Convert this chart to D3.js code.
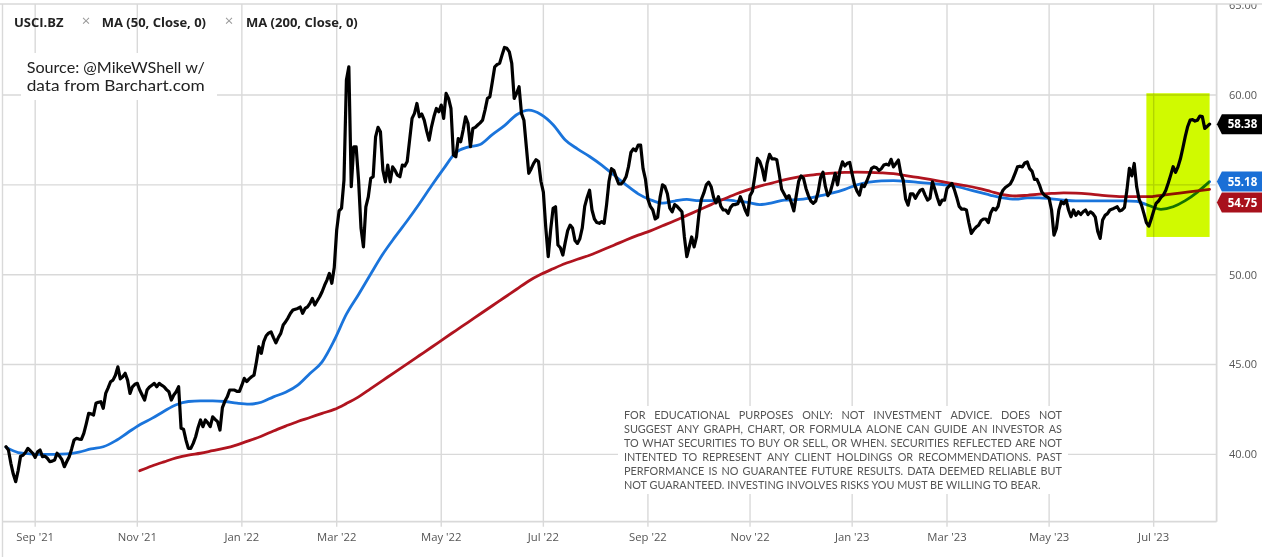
<!DOCTYPE html>
<html>
<head>
<meta charset="utf-8">
<script src="https://cdnjs.cloudflare.com/ajax/libs/d3/7.8.5/d3.min.js"></script>
<style>
html,body{margin:0;padding:0;background:#fff;}
svg{display:block;}
</style>
</head>
<body>
<svg id="chart" width="1275" height="557"></svg>
<script>
// ---------------- DATA ----------------
const symbol = "USCI.BZ";
const studyLabels = ["MA (50, Close, 0)", "MA (200, Close, 0)"];
const sourceLines = ["Source: @MikeWShell w/", "data from Barchart.com"];
const disclaimerLines = [
  "FOR EDUCATIONAL PURPOSES ONLY: NOT INVESTMENT ADVICE. DOES NOT",
  "SUGGEST ANY GRAPH, CHART, OR FORMULA ALONE CAN GUIDE AN INVESTOR AS",
  "TO WHAT SECURITIES TO BUY OR SELL, OR WHEN. SECURITIES REFLECTED ARE NOT",
  "INTENTED TO REPRESENT ANY CLIENT HOLDINGS OR RECOMMENDATIONS. PAST",
  "PERFORMANCE IS NO GUARANTEE FUTURE RESULTS. DATA DEEMED RELIABLE BUT",
  "NOT GUARANTEED. INVESTING INVOLVES RISKS YOU MUST BE WILLING TO BEAR."
];

// trading calendar
const firstSession = "2021-08-16";
const marketHolidays = [
  "2021-09-06","2021-11-25","2021-12-24","2022-01-17","2022-02-21","2022-04-15",
  "2022-05-30","2022-06-20","2022-07-04","2022-09-05","2022-11-24","2022-12-26",
  "2023-01-02","2023-01-16","2023-02-20","2023-04-07","2023-05-29","2023-06-19","2023-07-04"
];

// daily closes (one per trading session)
const closeValues = [
  // Aug 2021
  40.42,40.24,39.5,38.9,38.48,39.1,39.9,39.95,40.1,40.33,40.2,40.06,
  // Sep 2021
  39.83,40.14,40.24,39.87,39.9,39.78,39.59,39.62,39.68,40.06,39.9,39.7,39.31,39.6,39.87,40.3,40.8,40.89,40.85,40.83,41.17,
  // Oct 2021
  41.7,42.28,42.25,42.19,42.84,42.9,42.93,42.56,43.39,43.7,44.04,44.13,44.4,44.87,44.2,44.32,44.51,44.13,43.39,43.76,43.9,
  // Nov 2021
  43.95,43.58,43.3,43.02,43.58,43.75,43.85,43.95,43.76,43.95,43.85,43.76,43.6,43.48,43.02,43.3,43.48,43.76,41.45,41.4,40.8,
  // Dec 2021
  40.33,40.33,40.61,40.98,41.5,41.91,41.54,41.91,41.75,41.54,42.09,41.95,41.82,41.35,42.6,42.95,43.2,43.58,43.58,43.58,43.5,43.5,
  // Jan 2022
  43.85,44.23,44.05,44.2,44.32,44.41,45.15,45.99,45.62,46.27,46.6,46.75,46.82,46.5,46.21,46.5,46.73,47.2,47.38,47.6,
  // Feb 2022
  47.85,48.03,48.08,48.12,48.2,47.85,48.12,48.21,48.4,48.68,48.31,48.55,48.77,49.05,49.4,49.7,50.07,49.52,50.4,
  // Mar 2022
  52.48,53.55,53.7,55.26,60.83,61.57,54.9,57.12,57.12,55.26,52.6,51.55,53.78,54.33,55.36,55.45,57.67,58.2,57.95,55.82,55.17,56.1,55.17,
  // Apr 2022
  56.0,55.8,55.54,55.45,56.1,56.05,56.3,57.5,58.7,58.98,59.53,58.79,58.94,58.6,58.0,57.49,58.23,58.8,59.25,59.07,
  // May 2022
  59.44,58.7,60.09,59.81,59.25,56.66,56.56,57.58,57.4,58.05,58.79,58.42,57.12,58.14,58.2,58.33,58.45,58.6,59.16,59.81,59.9,
  // Jun 2022
  60.73,61.57,61.7,61.76,62.22,62.65,62.6,62.4,61.76,59.81,60.09,60.46,58.98,58.6,57.12,55.64,55.9,56.2,56.4,56.3,55.2,
  // Jul 2022
  54.6,52.6,51.0,52.5,53.69,53.78,51.65,51.5,51.09,51.8,52.45,52.76,52.6,51.9,51.74,52.0,52.6,53.8,54.3,54.7,
  // Aug 2022
  53.6,53.1,52.9,52.86,52.95,52.86,53.9,55.2,55.9,55.8,55.4,55.05,55.05,55.2,55.45,56.0,56.8,57.0,56.9,57.21,57.21,55.9,55.3,
  // Sep 2022
  54.2,53.8,53.6,53.1,53.2,54.3,55.0,54.9,54.5,53.7,53.5,53.9,53.8,53.65,53.5,52.1,51.0,51.55,52.1,51.55,52.1,
  // Oct 2022
  53.4,54.2,54.55,55.0,55.15,54.9,54.3,54.0,54.34,53.8,53.6,53.6,53.41,53.75,53.9,53.9,53.95,54.34,54.0,53.6,53.32,
  // Nov 2022
  54.4,54.65,55.5,56.47,56.3,55.9,55.26,56.19,56.7,56.45,56.45,56.4,55.6,54.75,54.5,54.25,54.4,54.0,53.55,54.4,55.2,
  // Dec 2022
  55.5,55.36,54.8,54.4,54.1,53.97,54.1,54.6,55.4,55.7,54.9,54.4,54.6,55.1,55.64,55.0,55.82,56.28,56.05,56.2,56.25,
  // Jan 2023
  55.6,55.0,54.65,54.43,55.0,54.9,55.2,55.55,55.92,56.0,55.95,55.8,55.9,56.1,56.15,56.1,56.42,56.0,56.19,56.38,
  // Feb 2023
  55.64,55.26,54.2,53.87,54.5,54.5,54.25,54.5,54.7,54.75,54.43,54.15,54.25,55.17,54.75,54.3,53.9,54.15,54.15,
  // Mar 2023
  54.8,54.95,55.08,54.75,54.3,53.8,53.65,53.65,53.6,52.9,52.3,52.5,52.65,52.75,53.0,53.1,53.1,52.9,53.45,53.69,53.6,53.8,54.4,
  // Apr 2023
  54.7,54.85,54.95,55.05,55.3,55.64,56.0,56.04,56.0,56.22,56.28,55.9,55.75,55.3,55.3,55.0,54.6,54.43,54.35,
  // May 2023
  54.25,53.6,52.2,52.57,53.6,54.06,53.95,54.15,53.6,53.22,53.6,53.3,53.5,53.35,53.5,53.6,53.35,53.5,53.4,53.2,52.4,52.02,
  // Jun 2023
  53.04,53.3,53.4,53.6,53.65,53.72,53.78,53.55,53.6,53.75,54.71,55.92,55.5,56.19,54.9,54.2,53.87,53.4,52.9,52.7,53.1,
  // Jul 2023
  53.55,53.97,54.1,54.3,54.43,54.7,55.1,55.54,56.01,55.7,56.0,56.45,57.05,57.7,58.25,58.6,58.63,58.55,58.6,58.83,
  // Aug 2023
  58.8,58.14,58.25,58.38
];

// moving averages, one reading every maStep sessions
const maStep = 5;
const ma50Values = [
  40.4,40.1,40.03,40.0,40.0,40.02,40.12,40.3,40.42,40.75,
  41.2,41.65,42.0,42.4,42.76,42.94,42.98,42.98,42.94,42.85,
  42.8,42.9,43.2,43.45,43.85,44.5,45.15,46.35,47.8,48.9,
  50.04,51.15,52.1,53.0,53.95,54.95,55.9,56.8,57.1,57.25,
  57.8,58.3,58.9,59.16,58.92,58.35,57.5,57.0,56.58,56.1,
  55.55,55.0,54.5,54.17,53.98,54.1,54.19,54.12,54.12,54.18,
  54.1,54.02,53.9,54.0,54.15,54.18,54.25,54.4,54.55,54.75,
  55.0,55.15,55.22,55.23,55.2,55.14,55.08,55.02,54.95,54.77,
  54.6,54.42,54.27,54.2,54.28,54.28,54.22,54.15,54.11,54.11,
  54.11,54.11,54.11,54.08,53.85,53.64,53.78,54.12,54.6,55.18
];
const ma200Values = [
  null,null,null,null,null,null,null,null,null,null,null,
  39.09,39.35,39.58,39.8,39.96,40.06,40.2,40.34,40.53,
  40.76,41.01,41.3,41.57,41.83,42.05,42.28,42.5,42.83,43.2,
  43.66,44.12,44.58,45.04,45.5,45.96,46.43,46.89,47.35,47.81,
  48.27,48.73,49.19,49.65,50.02,50.33,50.62,50.86,51.08,51.36,
  51.64,51.93,52.2,52.44,52.72,53.0,53.3,53.6,53.9,54.2,
  54.48,54.72,54.93,55.1,55.28,55.42,55.53,55.6,55.65,55.69,
  55.71,55.7,55.67,55.62,55.52,55.41,55.3,55.18,55.06,54.95,
  54.8,54.63,54.46,54.38,54.42,54.48,54.52,54.55,54.54,54.5,
  54.43,54.37,54.34,54.34,54.34,54.42,54.5,54.58,54.66,54.75
];

const lastClose = 58.38, lastMa50 = 55.18, lastMa200 = 54.75;

const yTicks = [40, 45, 50, 55, 60, 65];
const yTickLabels = ["40.00", "45.00", "50.00", "55.00", "60.00", "65.00"];
const xTickMonths = ["2021-09","2021-11","2022-01","2022-03","2022-05","2022-07",
                     "2022-09","2022-11","2023-01","2023-03","2023-05","2023-07"];

// highlighted box (annotation)
const highlightSessions = ["2023-06-28", "2023-08-04"];
const highlightRange = [52.1, 60.1];

// ---------------- LAYOUT ----------------
const W = 1275, H = 557;
const plot = {left: 2.5, right: 1216.6, top: 4, bottom: 521.7};
const svg = d3.select("#chart");
svg.append("rect").attr("width", W).attr("height", H).attr("fill", "#fff");

const fmt = d3.timeFormat("%Y-%m-%d");
const holidaySet = new Set(marketHolidays);
const sessions = [];
{
  let d = d3.timeParse("%Y-%m-%d")(firstSession);
  while (sessions.length < closeValues.length) {
    const wd = d.getDay();
    if (wd !== 0 && wd !== 6 && !holidaySet.has(fmt(d))) sessions.push(d);
    d = d3.timeDay.offset(d, 1);
  }
}
const sessionKeys = sessions.map(fmt);

const x = d3.scaleLinear().domain([0, sessions.length - 1]).range([6, 1209.6]);
const y = d3.scaleLinear().domain([36.25, 65]).range([plot.bottom, 5.2]);

const gridColor = "#d9d9d9";
const axisFont = "'Open Sans', 'Noto Sans', sans-serif";

// x tick indices: first session of each listed month
const xTicks = xTickMonths.map(m => sessionKeys.findIndex(k => k.slice(0, 7) === m));
const xFmt = d3.timeFormat("%b '%y");

// gridlines
const grid = svg.append("g");
grid.selectAll("line.h").data(yTicks.filter(t => y(t) > plot.top + 3)).join("line")
  .attr("x1", plot.left).attr("x2", plot.right)
  .attr("y1", d => y(d)).attr("y2", d => y(d))
  .attr("stroke", gridColor).attr("stroke-width", 1.4);
grid.selectAll("line.v").data(xTicks).join("line")
  .attr("x1", d => x(d)).attr("x2", d => x(d))
  .attr("y1", plot.top).attr("y2", plot.bottom + 5)
  .attr("stroke", gridColor).attr("stroke-width", 1.4);

// frame
grid.append("line").attr("x1", 0).attr("x2", 1262).attr("y1", plot.top).attr("y2", plot.top)
  .attr("stroke", gridColor).attr("stroke-width", 1.6);
grid.append("line").attr("x1", plot.left).attr("x2", plot.left).attr("y1", plot.top).attr("y2", H)
  .attr("stroke", gridColor).attr("stroke-width", 1.4);
grid.append("line").attr("x1", plot.right).attr("x2", plot.right).attr("y1", plot.top).attr("y2", plot.bottom)
  .attr("stroke", gridColor).attr("stroke-width", 1.8);
grid.append("line").attr("x1", plot.left).attr("x2", plot.right).attr("y1", plot.bottom).attr("y2", plot.bottom)
  .attr("stroke", gridColor).attr("stroke-width", 1.8);

// x axis labels
svg.append("g").selectAll("text").data(xTicks).join("text")
  .attr("x", d => x(d)).attr("y", 540.5)
  .attr("text-anchor", "middle")
  .attr("font-family", axisFont).attr("font-size", 11.3).attr("fill", "#555")
  .text(d => xFmt(sessions[d]));

// value tags layout (computed first so hidden axis labels can be skipped)
const tagH = 20;
const tags = [
  {v: lastClose, color: "#000"},
  {v: lastMa50, color: "#1a6fd6"},
  {v: lastMa200, color: "#a8111c"}
].map(t => ({...t, cy: y(t.v)})).sort((a, b) => a.cy - b.cy);
for (let k = 1; k < tags.length; k++) {
  const minY = tags[k - 1].cy + tagH + 1;
  if (tags[k].cy < minY) tags[k].cy = minY;
}
const coveredByTag = v => tags.some(t => Math.abs(y(v) - t.cy) < tagH / 2 + 5);

// y axis labels (clipped at frame top; labels hidden behind tags omitted)
svg.append("clipPath").attr("id", "yclip").append("rect")
  .attr("x", plot.right).attr("y", plot.top + 0.5).attr("width", 60).attr("height", H);
svg.append("g").attr("clip-path", "url(#yclip)").selectAll("text")
  .data(yTicks.map((t, i) => ({t, label: yTickLabels[i]})).filter(d => !coveredByTag(d.t)))
  .join("text")
  .attr("x", 1229).attr("y", d => y(d.t)).attr("dy", "0.36em")
  .attr("font-family", axisFont).attr("font-size", 11).attr("fill", "#555")
  .text(d => d.label);

// source box
const srcG = svg.append("g");
srcG.append("rect").attr("x", 21).attr("y", 53).attr("width", 196).attr("height", 47).attr("fill", "#fff");
srcG.selectAll("text").data(sourceLines).join("text")
  .attr("x", 26.7).attr("y", (d, i) => 73 + i * 18.3)
  .attr("font-family", "Lato, 'Open Sans', sans-serif").attr("font-size", 16).attr("fill", "#222")
  .attr("textLength", 178).attr("lengthAdjust", "spacingAndGlyphs")
  .text(d => d);

// disclaimer box
const discG = svg.append("g");
discG.append("rect").attr("x", 618).attr("y", 406).attr("width", 450).attr("height", 88).attr("fill", "#fff");
{
  const fs = 10.8;
  const left = 624, fullW = 438, lastW = 417, base = 419.3, pitch = 14;
  const tg = discG.append("g").attr("font-family", "Lato, 'Open Sans', sans-serif")
    .attr("font-size", fs).attr("fill", "#555");
  const measure = s => { const t = tg.append("text").text(s); const w = t.node().getComputedTextLength(); t.remove(); return w; };
  const sc = lastW / measure(disclaimerLines[disclaimerLines.length - 1]);
  const inner = tg.append("g").attr("transform", `translate(${left},0) scale(${sc},1)`);
  disclaimerLines.forEach((line, li) => {
    const yb = base + li * pitch;
    if (li === disclaimerLines.length - 1) { inner.append("text").attr("x", 0).attr("y", yb).text(line); return; }
    const words = line.split(" ");
    const widths = words.map(measure);
    const avail = fullW / sc;
    const gap = (avail - d3.sum(widths)) / (words.length - 1);
    if (gap < 1.5) {
      inner.append("text").attr("x", 0).attr("y", yb).attr("textLength", avail)
        .attr("lengthAdjust", "spacingAndGlyphs").text(line);
      return;
    }
    let cx = 0;
    words.forEach((w, i) => { inner.append("text").attr("x", cx).attr("y", yb).text(w); cx += widths[i] + gap; });
  });
}

// legend
{
  const lg = svg.append("g").attr("font-family", axisFont).attr("font-size", 13);
  lg.append("text").attr("x", 14).attr("y", 26.7).attr("font-weight", 700).attr("fill", "#222").text(symbol);
  const xs = [86, 229], ts = [101.7, 246];
  studyLabels.forEach((s, i) => {
    lg.append("text").attr("x", xs[i]).attr("y", 26.2).attr("text-anchor", "middle")
      .attr("fill", "#9a9a9a").attr("font-size", 15).text("\u00d7");
    lg.append("text").attr("x", ts[i]).attr("y", 26.7).attr("font-weight", 700).attr("fill", "#222").text(s);
  });
}

// series lines
const closeData = closeValues.map((v, i) => ({i, v}));
const ma50Data = ma50Values.map((v, k) => ({i: k * maStep, v}));
const ma200Data = ma200Values.map((v, k) => ({i: k * maStep, v}));

const smooth = d3.line().defined(d => d.v != null).x(d => x(d.i)).y(d => y(d.v)).curve(d3.curveMonotoneX);
const straight = d3.line().x(d => x(d.i)).y(d => y(d.v));

const lines = svg.append("g").attr("fill", "none").attr("stroke-linejoin", "round").attr("stroke-linecap", "round");
lines.append("path").attr("d", smooth(ma50Data)).attr("stroke", "#1a74db").attr("stroke-width", 2.8);
lines.append("path").attr("d", smooth(ma200Data)).attr("stroke", "#b0141f").attr("stroke-width", 2.8);
lines.append("path").attr("d", straight(closeData)).attr("stroke", "#000").attr("stroke-width", 3.2);

// highlight (multiply blend)
{
  const i0 = sessionKeys.indexOf(highlightSessions[0]);
  const i1 = sessionKeys.indexOf(highlightSessions[1]);
  svg.append("rect")
    .attr("x", x(i0)).attr("width", x(i1) - x(i0))
    .attr("y", y(highlightRange[1])).attr("height", y(highlightRange[0]) - y(highlightRange[1]))
    .attr("fill", "rgb(208,250,0)")
    .style("mix-blend-mode", "multiply");
}

// value tags
{
  const tipX = plot.right + 0.3, bodyX = tipX + 5, rightX = 1262;
  const tg = svg.append("g");
  tags.forEach(t => {
    tg.append("path")
      .attr("d", `M${tipX},${t.cy} L${bodyX},${t.cy - tagH / 2} L${rightX},${t.cy - tagH / 2} L${rightX},${t.cy + tagH / 2} L${bodyX},${t.cy + tagH / 2} Z`)
      .attr("fill", t.color);
    tg.append("text").attr("x", (bodyX + rightX) / 2 + 0.5).attr("y", t.cy).attr("dy", "0.36em")
      .attr("text-anchor", "middle").attr("font-family", axisFont).attr("font-weight", 700)
      .attr("font-size", 11.5).attr("fill", "#fff").text(d3.format(".2f")(t.v));
  });
}
</script>
</body>
</html>
